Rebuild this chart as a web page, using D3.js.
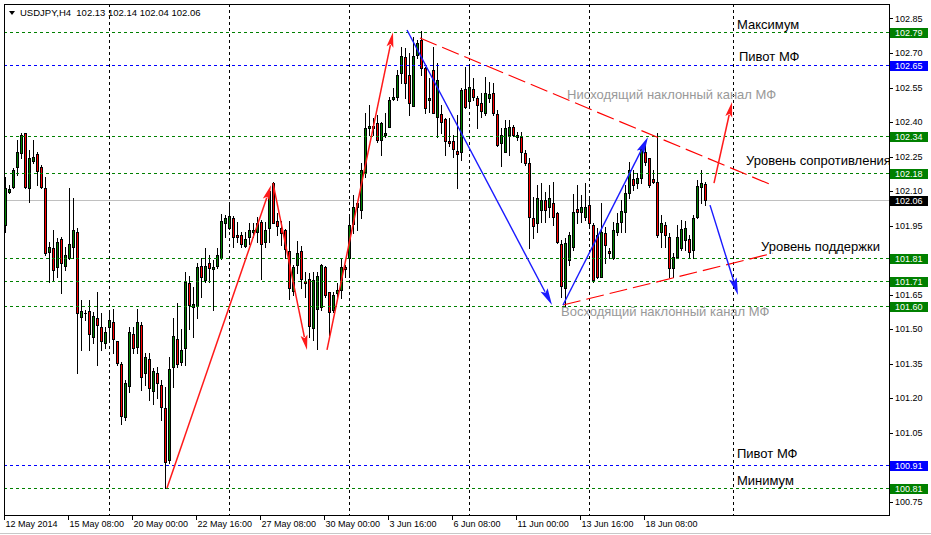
<!DOCTYPE html>
<html><head><meta charset="utf-8">
<script src="https://cdn.jsdelivr.net/npm/d3@7"></script>
<style>
html,body{margin:0;padding:0;background:#fff;}
svg{display:block;}
</style></head><body>
<script>
// ---------- DATA ----------
const openP=[101.953,102.096,102.118,102.205,102.265,102.352,102.113,102.231,102.261,102.205,
102.113,101.835,101.853,101.770,101.892,101.774,101.809,101.857,101.922,101.553,
101.570,101.579,101.466,101.549,101.510,101.440,101.510,101.531,101.449,101.349,
101.119,101.253,101.479,101.423,101.518,101.310,101.371,101.232,101.310,101.258,
101.158,100.932,101.336,101.457,101.357,101.418,101.701,101.596,101.601,101.774,
101.714,101.788,101.761,101.774,101.809,101.961,101.940,101.983,101.909,101.909,
101.861,101.900,101.922,101.922,101.966,101.879,101.940,102.135,101.970,101.940,
101.931,101.840,101.666,101.779,101.840,101.709,101.718,101.505,101.588,101.596,
101.770,101.662,101.583,101.657,101.670,101.770,101.809,101.957,102.031,102.018,
102.183,102.374,102.383,102.396,102.322,102.344,102.378,102.500,102.509,102.613,
102.682,102.604,102.470,102.691,102.756,102.635,102.496,102.626,102.422,102.435,
102.413,102.317,102.317,102.274,102.270,102.543,102.491,102.543,102.504,102.483,
102.439,102.504,102.526,102.435,102.309,102.270,102.344,102.378,102.335,102.335,
102.265,102.222,101.983,101.961,102.018,102.061,102.031,102.048,102.005,101.870,
101.679,101.801,101.857,102.022,102.009,101.987,102.039,101.953,101.909,101.727,
101.918,101.840,101.809,101.922,101.966,102.009,102.092,102.152,102.135,102.157,
102.270,102.244,102.152,102.139,101.922,101.953,101.900,101.766,101.814,101.853,
101.887,101.892,101.844,101.987,102.118,102.13];
const highP=[102.161,102.126,102.200,102.322,102.352,102.352,102.278,102.322,102.270,102.213,
102.161,101.879,101.931,101.896,101.900,101.857,102.113,102.070,101.940,101.627,
101.583,101.627,101.575,101.662,101.570,101.510,101.583,101.588,101.449,101.357,
101.279,101.510,101.510,101.588,101.531,101.397,101.397,101.331,101.336,101.279,
101.249,101.379,101.549,101.614,101.501,101.748,101.731,101.683,101.788,101.809,
101.853,101.822,101.801,101.853,102.000,101.996,102.053,101.992,101.966,101.922,
101.922,101.961,101.961,101.987,101.974,101.966,102.109,102.139,102.005,101.970,
101.935,101.970,101.779,101.883,101.861,101.748,101.744,101.748,101.748,101.785,
101.774,101.662,101.662,101.701,101.809,101.779,101.987,102.083,102.053,102.222,
102.439,102.474,102.417,102.430,102.400,102.439,102.509,102.548,102.626,102.726,
102.721,102.700,102.769,102.756,102.795,102.639,102.591,102.726,102.656,102.474,
102.417,102.417,102.344,102.430,102.548,102.639,102.648,102.591,102.513,102.526,
102.596,102.574,102.569,102.452,102.374,102.409,102.409,102.387,102.357,102.357,
102.278,102.244,102.074,102.126,102.135,102.096,102.126,102.139,102.009,101.887,
101.896,101.922,102.087,102.126,102.083,102.135,102.074,101.961,101.940,102.048,
101.944,101.853,101.966,102.005,102.061,102.126,102.226,102.192,102.178,102.287,
102.313,102.244,102.192,102.352,101.996,101.966,101.918,101.831,101.953,101.974,
101.970,101.909,101.996,102.148,102.192,102.14];
const lowP=[101.922,102.092,102.113,102.170,102.244,102.113,102.053,102.222,102.126,102.113,
101.822,101.705,101.714,101.727,101.657,101.757,101.805,101.809,101.310,101.410,
101.540,101.410,101.440,101.344,101.410,101.418,101.453,101.397,101.344,101.088,
101.106,101.227,101.397,101.397,101.236,101.258,101.192,101.175,101.201,101.106,
100.810,100.919,101.249,101.336,101.344,101.344,101.501,101.466,101.549,101.640,
101.705,101.705,101.583,101.766,101.805,101.900,101.935,101.857,101.879,101.857,
101.857,101.870,101.900,101.879,101.718,101.857,101.879,101.961,101.909,101.866,
101.809,101.631,101.649,101.744,101.679,101.640,101.466,101.453,101.414,101.583,
101.640,101.475,101.575,101.635,101.635,101.727,101.727,101.918,101.931,101.983,
102.161,102.344,102.344,102.313,102.257,102.335,102.378,102.496,102.496,102.569,
102.504,102.430,102.470,102.678,102.604,102.439,102.443,102.439,102.335,102.352,
102.257,102.296,102.248,102.113,102.235,102.460,102.474,102.496,102.374,102.422,
102.430,102.487,102.430,102.296,102.209,102.270,102.257,102.339,102.322,102.226,
102.213,101.853,101.896,101.922,101.966,101.966,101.987,101.953,101.874,101.640,
101.596,101.779,101.844,101.961,101.966,101.974,101.944,101.705,101.722,101.727,
101.788,101.809,101.805,101.909,101.922,101.922,102.070,102.105,102.113,102.135,
102.213,102.118,102.135,101.900,101.857,101.857,101.727,101.727,101.809,101.844,
101.844,101.809,101.809,101.983,102.048,102.04];
const closeP=[102.113,102.109,102.192,102.270,102.344,102.118,102.244,102.248,102.187,102.118,
101.831,101.857,101.757,101.879,101.788,101.822,101.870,101.931,101.570,101.579,
101.572,101.479,101.557,101.518,101.449,101.488,101.540,101.457,101.353,101.123,
101.266,101.488,101.418,101.531,101.292,101.379,101.245,101.318,101.266,101.162,
100.923,101.327,101.470,101.349,101.410,101.705,101.605,101.609,101.770,101.727,
101.774,101.766,101.770,101.822,101.970,101.983,101.992,101.900,101.900,101.870,
101.892,101.931,101.931,101.961,101.870,101.931,102.100,101.961,101.948,101.918,
101.848,101.679,101.770,101.831,101.718,101.701,101.514,101.714,101.731,101.779,
101.649,101.575,101.649,101.670,101.770,101.761,101.953,102.031,102.048,102.192,
102.374,102.383,102.374,102.322,102.396,102.352,102.496,102.509,102.604,102.687,
102.569,102.483,102.687,102.743,102.635,102.461,102.504,102.439,102.582,102.400,
102.317,102.309,102.283,102.261,102.539,102.465,102.552,102.509,102.474,102.448,
102.526,102.522,102.439,102.300,102.344,102.374,102.378,102.344,102.344,102.270,
102.222,101.987,101.948,102.070,102.061,102.018,102.070,101.987,101.879,101.688,
101.874,101.909,102.009,102.009,102.031,102.031,101.961,101.714,101.727,101.922,
101.866,101.831,101.931,101.961,102.013,102.092,102.192,102.126,102.157,102.283,
102.226,102.126,102.139,101.909,101.961,101.909,101.766,101.814,101.900,101.935,
101.940,101.835,101.983,102.122,102.135,102.06];

const symbolTitle="USDJPY,H4";
const titleValues=["102.13","102.14","102.04","102.06"];
const timeLabels=["12 May 2014","15 May 08:00","20 May 00:00","22 May 16:00","27 May 08:00",
  "30 May 00:00","3 Jun 16:00","6 Jun 08:00","11 Jun 00:00","13 Jun 16:00","18 Jun 08:00"];
const timeLabelStep=16;
const gridBars=[26,56,86,116,146,182];
const priceTicks=[102.85,102.70,102.55,102.40,102.25,102.10,101.95,101.80,101.65,101.50,101.35,101.20,101.05,100.90,100.75];
const greenLevels=[102.79,102.34,102.18,101.81,101.71,101.60,100.81];
const blueLevels=[102.65,100.91];
const lastPrice=102.06;

// trend objects: [bar index, price]
const redArrows=[
  [[40.5,100.81],[66.5,102.125]],
  [[67,102.135],[75.5,101.41]],
  [[80.5,101.41],[97,102.79]],
  [[177.25,102.135],[181.75,102.487]]
];
const blueArrows=[
  [[100.5,102.80],[136.75,101.605]],
  [[139.5,101.605],[160.75,102.335]],
  [[176.25,102.039],[183.25,101.649]]
];
const channelLines=[
  [[103.75,102.765],[191.75,102.126]],
  [[139.5,101.605],[192,101.83]]
];
const blackNotes=[
  ["Максимум",183,102.826],
  ["Пивот МФ",183.5,102.687],
  ["Уровень сопротивления",185.25,102.235],
  ["Уровень поддержки",189,101.861],
  ["Пивот МФ",183,100.962],
  ["Минимум",183,100.845]
];
const grayNotes=[
  ["Нисходящий наклонный канал МФ",140.5,102.522],
  ["Восходящий наклонный канал МФ",139,101.579]
];

// ---------- DRAW ----------
const W=931,H=535;
const L=4,R=889,T=4,B=515;
const svg=d3.select("body").append("svg").attr("width",W).attr("height",H);
svg.append("rect").attr("width",W).attr("height",H).attr("fill","#fff");

const x=d3.scaleLinear().domain([0,175]).range([5,705]);
const y=d3.scaleLinear().domain([100.81,102.79]).range([488,32.3]);
const axFont="'Liberation Sans', Arial, sans-serif";

svg.append("defs").append("clipPath").attr("id","plot")
  .append("rect").attr("x",L+1).attr("y",T+1).attr("width",R-L-1).attr("height",B-T-1);
const g=svg.append("g").attr("clip-path","url(#plot)");

// vertical grid
g.selectAll("line.vg").data(gridBars).join("line")
  .attr("x1",d=>Math.round(x(d))+0.5).attr("x2",d=>Math.round(x(d))+0.5)
  .attr("y1",T).attr("y2",B).attr("stroke","#000").attr("stroke-width",1)
  .attr("stroke-dasharray","3,3");

// current price line
g.append("line").attr("x1",L).attr("x2",R)
  .attr("y1",Math.round(y(lastPrice))+0.5).attr("y2",Math.round(y(lastPrice))+0.5)
  .attr("stroke","#c0c0c0").attr("stroke-width",1);

// candles
const idx=d3.range(openP.length);
const cg=g.append("g");
idx.forEach(i=>{
  const cx=Math.round(x(i));
  const o=openP[i],c=closeP[i],h=highP[i],l=lowP[i];
  const yh=Math.round(y(h)), yl=Math.round(y(l));
  cg.append("line").attr("x1",cx+0.5).attr("x2",cx+0.5).attr("y1",yh).attr("y2",yl+1)
    .attr("stroke","#000").attr("stroke-width",1);
  const top=Math.round(y(Math.max(o,c))), bot=Math.round(y(Math.min(o,c)));
  if(bot-top<1){
    cg.append("line").attr("x1",cx-1).attr("x2",cx+2).attr("y1",top+0.5).attr("y2",top+0.5)
      .attr("stroke","#000");
  } else {
    cg.append("rect").attr("x",cx-0.5).attr("y",top+0.5).attr("width",2).attr("height",bot-top)
      .attr("fill",c>=o?"#008000":"#ff0000").attr("stroke","#000").attr("stroke-width",1);
  }
});

// horizontal levels
g.selectAll("line.gl").data(greenLevels).join("line")
  .attr("x1",L).attr("x2",R).attr("y1",d=>Math.round(y(d))+0.5).attr("y2",d=>Math.round(y(d))+0.5)
  .attr("stroke","#008000").attr("stroke-width",1).attr("stroke-dasharray","3,3");
g.selectAll("line.bl").data(blueLevels).join("line")
  .attr("x1",L).attr("x2",R).attr("y1",d=>Math.round(y(d))+0.5).attr("y2",d=>Math.round(y(d))+0.5)
  .attr("stroke","#0000ff").attr("stroke-width",1).attr("stroke-dasharray","3,3");

// channel lines
g.selectAll("line.ch").data(channelLines).join("line")
  .attr("x1",d=>x(d[0][0])).attr("y1",d=>y(d[0][1]))
  .attr("x2",d=>x(d[1][0])).attr("y2",d=>y(d[1][1]))
  .attr("stroke","#ff0000").attr("stroke-width",1.2).attr("stroke-dasharray","18,6");

// arrows
function arrow(seg,color,len,half,sw){
  const x1=x(seg[0][0]),y1=y(seg[0][1]),x2=x(seg[1][0]),y2=y(seg[1][1]);
  const dx=x2-x1,dy=y2-y1,d=Math.hypot(dx,dy),ux=dx/d,uy=dy/d;
  const bx=x2-ux*len,by=y2-uy*len;
  g.append("line").attr("x1",x1).attr("y1",y1).attr("x2",bx+ux*2).attr("y2",by+uy*2)
    .attr("stroke",color).attr("stroke-width",sw);
  g.append("path").attr("d",`M${x2},${y2}L${bx-uy*half},${by+ux*half}L${bx+ux*3},${by+uy*3}L${bx+uy*half},${by-ux*half}Z`)
    .attr("fill",color);
}
redArrows.forEach(s=>arrow(s,"#ff1a1a",15,3.5,1.5));
blueArrows.forEach(s=>arrow(s,"#1a1aff",17,4,1.4));

// notes
const noteFont="'Liberation Sans', Arial, sans-serif";
g.selectAll("text.bn").data(blackNotes).join("text")
  .attr("x",d=>x(d[1])).attr("y",d=>y(d[2])).attr("dy","0.36em")
  .attr("font-family",noteFont).attr("font-size",13).attr("fill","#000").text(d=>d[0]);
g.selectAll("text.gn").data(grayNotes).join("text")
  .attr("x",d=>x(d[1])).attr("y",d=>y(d[2])).attr("dy","0.36em")
  .attr("font-family",noteFont).attr("font-size",13).attr("fill","#999999").text(d=>d[0]);

// frame
svg.append("rect").attr("x",L+0.5).attr("y",T+0.5).attr("width",R-L).attr("height",B-T)
  .attr("fill","none").attr("stroke","#000");

// price axis
priceTicks.forEach(p=>{
  const yy=Math.round(y(p))+0.5;
  svg.append("line").attr("x1",R).attr("x2",R+4).attr("y1",yy).attr("y2",yy).attr("stroke","#000");
  svg.append("text").attr("x",R+6).attr("y",y(p)).attr("dy","0.35em")
    .attr("font-family",axFont).attr("font-size",9).attr("fill","#000").text(p.toFixed(2));
});
function box(p,color){
  const yy=Math.round(y(p));
  svg.append("rect").attr("x",R+1).attr("y",yy-4).attr("width",38).attr("height",10).attr("fill",color);
  svg.append("text").attr("x",R+6).attr("y",yy+1).attr("dy","0.35em")
    .attr("font-family",axFont).attr("font-size",9).attr("fill","#fff").text(p.toFixed(2));
}
greenLevels.forEach(p=>box(p,"#008000"));
blueLevels.forEach(p=>box(p,"#0000ff"));
box(lastPrice,"#000");

// time axis
timeLabels.forEach((t,k)=>{
  const xx=Math.round(x(k*timeLabelStep))+0.5;
  svg.append("line").attr("x1",xx-1).attr("x2",xx-1).attr("y1",B).attr("y2",B+5).attr("stroke","#000");
  svg.append("text").attr("x",xx).attr("y",527).attr("font-family",axFont)
    .attr("font-size",9).attr("fill","#000").text(t);
});

// title
svg.append("path").attr("d","M9,11L15,11L12,15Z").attr("fill","#000");
svg.append("text").attr("x",20).attr("y",16).attr("font-family",axFont).attr("font-size",9.5)
  .attr("fill","#000").attr("xml:space","preserve")
  .text(symbolTitle+"  "+titleValues.join(" "));

// window edge
svg.append("line").attr("x1",0).attr("x2",W).attr("y1",533.5).attr("y2",533.5).attr("stroke","#c8c8c8");
</script>
</body></html>
